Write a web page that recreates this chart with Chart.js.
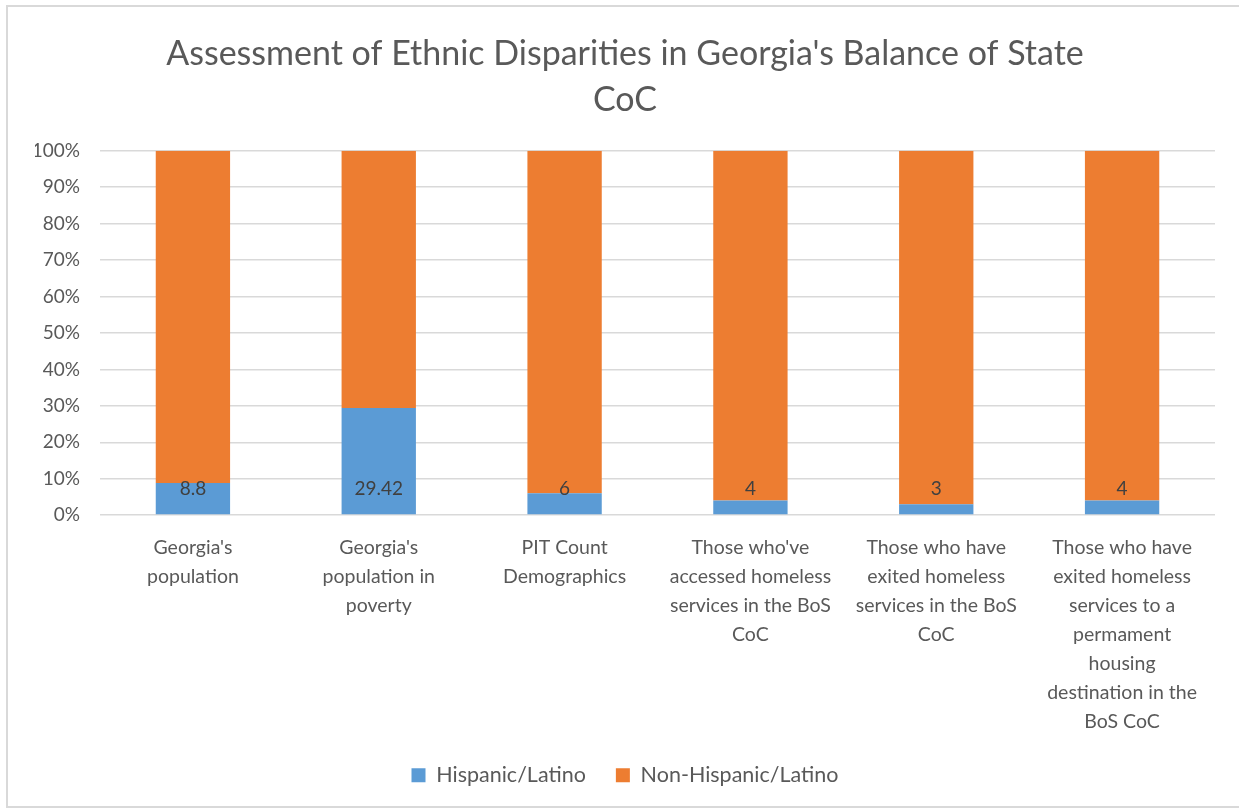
<!DOCTYPE html>
<html>
<head>
<meta charset="utf-8">
<script src="https://cdn.jsdelivr.net/npm/chart.js@4"></script>
<style>
  html, body { margin: 0; padding: 0; background: #fff; }
  #wrap { width: 1239px; height: 812px; position: relative; }
</style>
</head>
<body>
<div id="wrap"><canvas id="chart" width="1239" height="812"></canvas></div>
<script>
'use strict';

// categories (already wrapped like the original axis labels)
var categories = [
    ["Georgia's", "population"],
    ["Georgia's", "population in", "poverty"],
    ["PIT Count", "Demographics"],
    ["Those who've", "accessed homeless", "services in the BoS", "CoC"],
    ["Those who have", "exited homeless", "services in the BoS", "CoC"],
    ["Those who have", "exited homeless", "services to a", "permament", "housing", "destination in the", "BoS CoC"]
];

// percentage values per series
var hispanic = [8.8, 29.42, 6, 4, 3, 4];
var nonHispanic = [91.2, 70.58, 94, 96, 97, 96];

var seriesNames = ["Hispanic/Latino", "Non-Hispanic/Latino"];
var titleLines = ["Assessment of Ethnic Disparities in Georgia's Balance of State", "CoC"];

var BLUE = '#5B9BD5', ORANGE = '#ED7D31', TEXT = '#595959', GRID = '#D9D9D9';
var FONT = 'Lato, "Open Sans", sans-serif';
var labelLevel = 7.1; // the labels sit at the same height in every bar

// light frame around the whole chart, like the exported picture
var framePlugin = {
    id: 'frame',
    beforeDraw: function (chart) {
        var ctx = chart.ctx;
        ctx.save();
        ctx.fillStyle = '#fff';
        ctx.fillRect(0, 0, chart.width, chart.height);
        ctx.strokeStyle = GRID;
        ctx.lineWidth = 2;
        ctx.strokeRect(7, 6, chart.width + 10, chart.height - 11);
        ctx.restore();
    }
};

// value labels for the Hispanic series
var labelPlugin = {
    id: 'hispLabels',
    afterDatasetsDraw: function (chart) {
        var ctx = chart.ctx;
        var meta = chart.getDatasetMeta(0);
        var y = chart.scales.y.getPixelForValue(labelLevel);
        ctx.save();
        ctx.font = '19px ' + FONT;
        ctx.fillStyle = '#404040';
        ctx.textAlign = 'center';
        ctx.textBaseline = 'middle';
        meta.data.forEach(function (bar, i) {
            ctx.fillText(String(hispanic[i]), bar.x, y);
        });
        ctx.restore();
    }
};

new Chart(document.getElementById('chart'), {
    type: 'bar',
    data: {
        labels: categories,
        datasets: [
            { label: seriesNames[0], data: hispanic, backgroundColor: BLUE, borderWidth: 0 },
            { label: seriesNames[1], data: nonHispanic, backgroundColor: ORANGE, borderWidth: 0 }
        ]
    },
    options: {
        responsive: false,
        animation: false,
        layout: { padding: { top: 8, left: 35, right: 24, bottom: 16 } },
        datasets: { bar: { barPercentage: 0.4, categoryPercentage: 1.0 } },
        plugins: {
            title: {
                display: true,
                text: titleLines,
                color: TEXT,
                font: { family: FONT, size: 34, weight: 'normal', lineHeight: 1.35 },
                padding: { top: 23, bottom: 28 }
            },
            legend: {
                position: 'bottom',
                labels: {
                    color: TEXT,
                    font: { family: FONT, size: 21.5 },
                    boxWidth: 14,
                    boxHeight: 14,
                    padding: 30
                }
            },
            tooltip: { enabled: false }
        },
        scales: {
            x: {
                stacked: true,
                grid: { display: false },
                border: { display: false },
                afterFit: function (scale) { scale.height -= 12; },
                ticks: {
                    color: TEXT,
                    font: { family: FONT, size: 19.5, lineHeight: 1.49 },
                    maxRotation: 0,
                    autoSkip: false,
                    padding: 10
                }
            },
            y: {
                stacked: true,
                min: 0,
                max: 100,
                grid: { color: GRID, lineWidth: 1.5, drawTicks: false },
                border: { display: false },
                afterFit: function (scale) { scale.width = 65; },
                ticks: {
                    stepSize: 10,
                    color: TEXT,
                    font: { family: FONT, size: 19 },
                    padding: 20,
                    callback: function (v) { return v + '%'; }
                }
            }
        }
    },
    plugins: [framePlugin, labelPlugin]
});
</script>
</body>
</html>
